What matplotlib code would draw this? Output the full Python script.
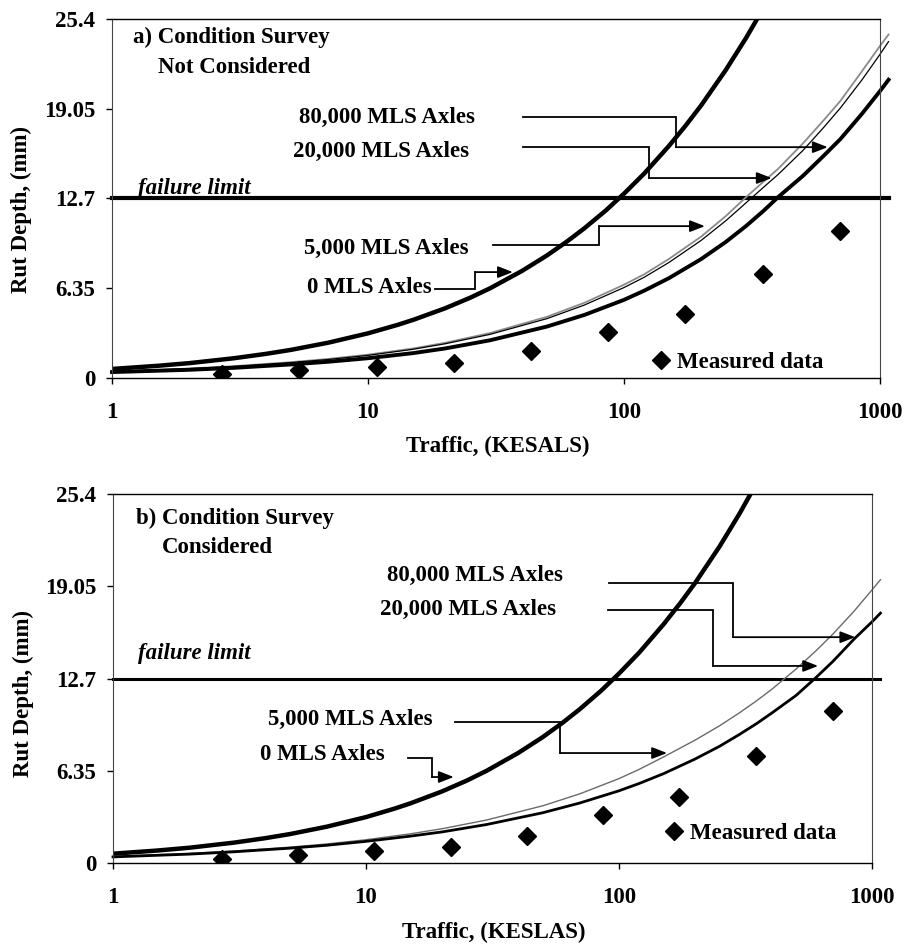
import matplotlib
matplotlib.use("Agg")
import matplotlib.pyplot as plt
from matplotlib.lines import Line2D

plt.rcParams['font.family'] = ['Liberation Serif', 'DejaVu Serif']
plt.rcParams['font.weight'] = 'bold'

# ---------------- data ----------------
traffic_measured = [2.7, 5.4, 10.8, 21.6, 43.3, 86.5, 173, 348, 700]
rut_measured = [0.30, 0.56, 0.80, 1.08, 1.88, 3.28, 4.54, 7.36, 10.43]

traffic_steep = [1, 1.5, 2, 3, 4, 5, 7, 10, 13, 15, 20, 25, 30, 40, 50, 60, 70, 85,
                 100, 120, 150, 175, 200, 250, 300, 350]
rut_steep = [0.64, 0.86, 1.05, 1.40, 1.71, 1.99, 2.50, 3.16, 3.75, 4.11, 4.93, 5.67,
             6.35, 7.58, 8.67, 9.67, 10.59, 11.86, 13.04, 14.47, 16.43, 17.91, 19.28,
             21.80, 24.07, 26.15]

traffic_lower = [1, 2, 3, 5, 7, 10, 15, 20, 30, 50, 70, 100, 120, 150, 200, 250, 300,
                 350, 400, 500, 600, 700, 850, 1000, 1080]
# panel a
rut_a_thin_black = [0.45, 0.66, 0.82, 1.09, 1.31, 1.60, 2.03, 2.42, 3.09, 4.20, 5.16,
                    6.40, 7.13, 8.18, 9.73, 11.13, 12.4, 13.48, 14.4, 16.1, 17.69,
                    19.1, 21.09, 22.9, 23.8]
rut_a_thin_grey = [0.45, 0.67, 0.84, 1.12, 1.35, 1.65, 2.09, 2.49, 3.18, 4.33, 5.32,
                   6.60, 7.34, 8.43, 10.0, 11.46, 12.8, 13.88, 14.8, 16.6, 18.2,
                   19.6, 21.7, 23.5, 24.3]
rut_a_thick = [0.42, 0.58, 0.72, 0.96, 1.15, 1.40, 1.76, 2.09, 2.67, 3.64, 4.46,
               5.53, 6.18, 7.07, 8.41, 9.63, 10.76, 11.81, 12.8, 14.3, 15.69,
               16.9, 18.69, 20.3, 21.1]
# panel b
rut_b_thin = [0.45, 0.66, 0.82, 1.09, 1.31, 1.60, 2.01, 2.36, 2.96, 3.94, 4.76,
              5.81, 6.44, 7.30, 8.46, 9.45, 10.35, 11.17, 11.93, 13.34, 14.60,
              15.75, 17.34, 18.80, 19.5]
rut_b_thick = [0.42, 0.61, 0.77, 1.02, 1.22, 1.49, 1.85, 2.14, 2.65, 3.46, 4.13,
               4.97, 5.47, 6.15, 7.16, 8.04, 8.86, 9.60, 10.30, 11.52, 12.76,
               13.87, 15.42, 16.6, 17.2]

failure_limit = 12.7
failure_x = [1, 1080]

x_ticks = [1, 10, 100, 1000]
x_tick_labels = ['1', '10', '100', '1000']
y_ticks = [0, 6.35, 12.7, 19.05, 25.4]
y_tick_labels = ['0', '6.35', '12.7', '19.05', '25.4']

FS = 16.5
MS = 9

fig = plt.figure(figsize=(9.07, 9.46), dpi=100)
ax1 = fig.add_axes([112 / 907, 1 - 378 / 946, 768 / 907, 359 / 946])
ax2 = fig.add_axes([113 / 907, 1 - 863 / 946, 759 / 907, 369 / 946])


def style_axes(ax, xlabel, ylab_y):
    ax.set_xscale('log')
    ax.set_xlim(1, 1000)
    ax.set_ylim(0, 25.4)
    ax.set_xticks(x_ticks)
    ax.set_xticklabels(x_tick_labels)
    ax.set_yticks(y_ticks)
    ax.set_yticklabels(y_tick_labels)
    ax.minorticks_off()
    ax.tick_params(axis='x', direction='out', length=4, width=1, pad=13, labelsize=FS)
    ax.tick_params(axis='y', direction='out', length=4, width=1, pad=8, labelsize=FS)
    for lab in ax.get_xticklabels() + ax.get_yticklabels():
        lab.set_fontweight('bold')
    for s in ['left', 'right']:
        ax.spines[s].set_color('#444444')
        ax.spines[s].set_linewidth(0.8)
    for s in ['top', 'bottom']:
        ax.spines[s].set_color('black')
        ax.spines[s].set_linewidth(1.0)
    ax.set_xlabel(xlabel, fontsize=FS, fontweight='bold', va='top')
    ax.xaxis.set_label_coords(0.502, -0.160)
    ax.set_ylabel('Rut Depth, (mm)', fontsize=FS, fontweight='bold')
    ax.yaxis.set_label_coords(-0.104, ylab_y)


def leader(ax, fx, fy):
    ax.plot(fx[:-1], fy[:-1], color='black', lw=1.3, transform=ax.transAxes,
            clip_on=False, solid_joinstyle='miter')
    ax.annotate('', xy=(fx[-1], fy[-1]), xytext=(fx[-2], fy[-2]),
                xycoords='axes fraction', textcoords='axes fraction',
                arrowprops=dict(arrowstyle='-|>,head_length=0.9,head_width=0.35',
                                color='black', lw=1.3, shrinkA=0, shrinkB=0))


def text(ax, x, y, s, style='normal', ha='left'):
    ax.text(x, y, s, transform=ax.transAxes, fontsize=FS, fontweight='bold',
            ha=ha, va='center', style=style)


# ---------------- panel a ----------------
ax = ax1
style_axes(ax, 'Traffic, (KESALS)', 0.47)
ax.plot(failure_x, [failure_limit] * 2, color='black', lw=3.0, clip_on=False)
ax.plot(traffic_steep, rut_steep, color='black', lw=3.2)
ax.plot(traffic_lower, rut_a_thin_grey, color='#8a8a8a', lw=1.3, clip_on=False)
ax.plot(traffic_lower, rut_a_thin_black, color='black', lw=0.9, clip_on=False)
ax.plot(traffic_lower, rut_a_thick, color='black', lw=2.8, clip_on=False)
ax.plot(traffic_measured, rut_measured, ls='none', marker='D', ms=MS, color='black')

text(ax, 0.027, 0.950, 'a) Condition Survey')
text(ax, 0.060, 0.866, 'Not Considered')
text(ax, 0.034, 0.529, 'failure limit', style='italic')
text(ax, 0.4727, 0.727, '80,000 MLS Axles', ha='right')
text(ax, 0.4648, 0.630, '20,000 MLS Axles', ha='right')
text(ax, 0.4648, 0.362, '5,000 MLS Axles', ha='right')
text(ax, 0.4167, 0.251, '0 MLS Axles', ha='right')
leader(ax, [0.535, 0.734, 0.734, 0.932], [0.727, 0.727, 0.643, 0.643])
leader(ax, [0.535, 0.699, 0.699, 0.859], [0.643, 0.643, 0.557, 0.557])
leader(ax, [0.496, 0.634, 0.634, 0.772], [0.370, 0.370, 0.423, 0.423])
leader(ax, [0.421, 0.473, 0.473, 0.522], [0.248, 0.248, 0.295, 0.295])
h = Line2D([], [], ls='none', marker='D', ms=MS, color='black', label='Measured data')
ax.legend(handles=[h], loc='center left', bbox_to_anchor=(0.702, 0.042),
          frameon=False, handlelength=0.9, handletextpad=0.25, borderpad=0,
          borderaxespad=0, prop=dict(size=FS, weight='bold'))

# ---------------- panel b ----------------
ax = ax2
style_axes(ax, 'Traffic, (KESLAS)', 0.46)
ax.plot(failure_x, [failure_limit] * 2, color='black', lw=2.2, clip_on=False)
ax.plot(traffic_steep, rut_steep, color='black', lw=3.2)
ax.plot(traffic_lower, rut_b_thin, color='#6a6a6a', lw=1.0, clip_on=False)
ax.plot(traffic_lower, rut_b_thick, color='black', lw=2.0, clip_on=False)
ax.plot(traffic_measured, rut_measured, ls='none', marker='D', ms=MS, color='black')

text(ax, 0.030, 0.935, 'b) Condition Survey')
text(ax, 0.065, 0.856, 'Considered')
text(ax, 0.033, 0.569, 'failure limit', style='italic')
text(ax, 0.5929, 0.778, '80,000 MLS Axles', ha='right')
text(ax, 0.5837, 0.688, '20,000 MLS Axles', ha='right')
text(ax, 0.4216, 0.388, '5,000 MLS Axles', ha='right')
text(ax, 0.3584, 0.293, '0 MLS Axles', ha='right')
leader(ax, [0.653, 0.817, 0.817, 0.978], [0.759, 0.759, 0.612, 0.612])
leader(ax, [0.652, 0.791, 0.791, 0.929], [0.686, 0.686, 0.534, 0.534])
leader(ax, [0.451, 0.589, 0.589, 0.730], [0.382, 0.382, 0.298, 0.298])
leader(ax, [0.389, 0.420, 0.420, 0.449], [0.285, 0.285, 0.233, 0.233])
h = Line2D([], [], ls='none', marker='D', ms=MS, color='black', label='Measured data')
ax.legend(handles=[h], loc='center left', bbox_to_anchor=(0.726, 0.081),
          frameon=False, handlelength=0.9, handletextpad=0.25, borderpad=0,
          borderaxespad=0, prop=dict(size=FS, weight='bold'))

fig.savefig('out.png', dpi=100)
